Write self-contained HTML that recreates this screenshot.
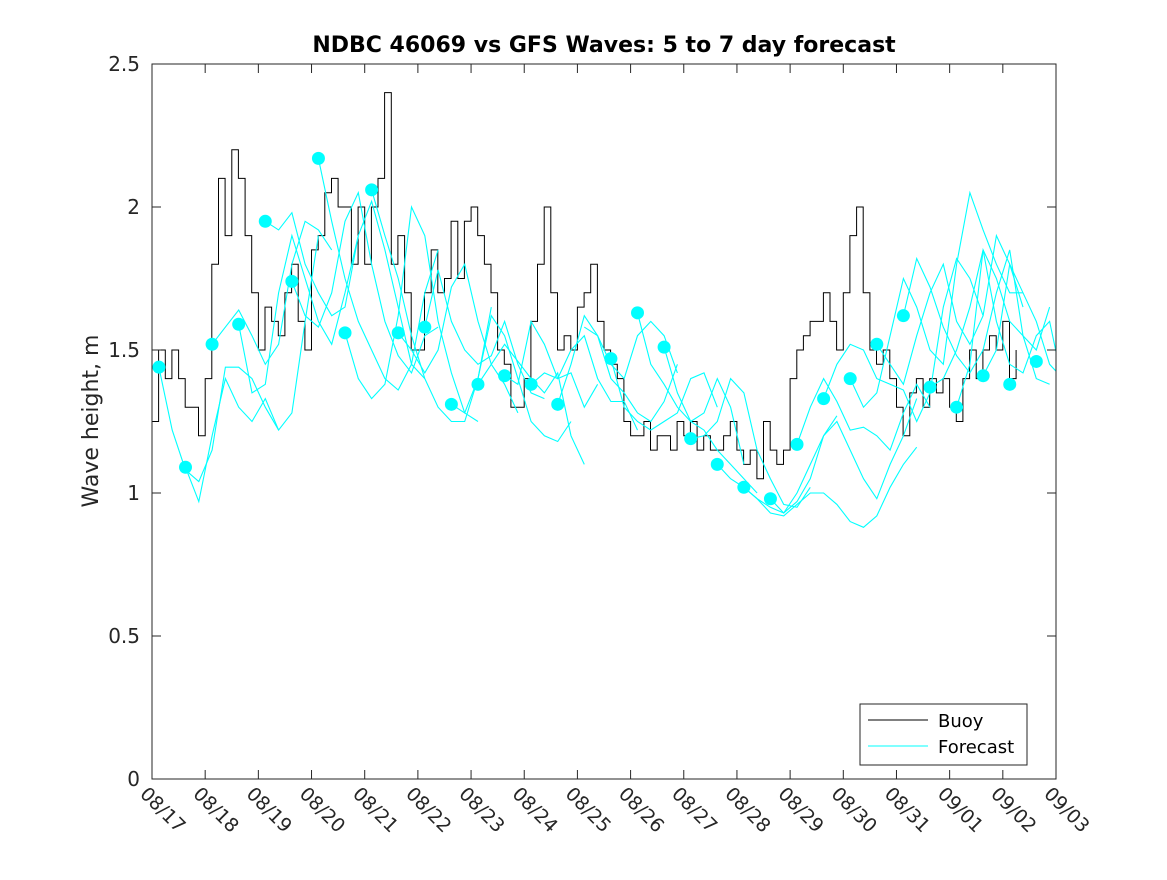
<!DOCTYPE html>
<html><head><meta charset="utf-8"><style>
body{margin:0;background:#fff}
svg text{font-family:"DejaVu Sans","Liberation Sans",sans-serif;fill:#262626}
</style></head><body>
<svg id="chart" width="1167" height="875" viewBox="0 0 1167 875" xmlns="http://www.w3.org/2000/svg">
<rect width="1167" height="875" fill="#fff"/>
<text x="604" y="52" text-anchor="middle" font-size="22" font-weight="bold" style="fill:#000">NDBC 46069 vs GFS Waves: 5 to 7 day forecast</text>
<text transform="translate(98,421) rotate(-90)" text-anchor="middle" font-size="22">Wave height, m</text>
<g id="plot"></g>
<rect x="152" y="64" width="904" height="715" fill="none" stroke="#262626" stroke-width="1"/>
<g id="axes"></g>
<g>
<rect x="860" y="704" width="167" height="61" fill="#fff" stroke="#262626"/>
<line x1="868" y1="720" x2="928" y2="720" stroke="#000"/>
<text x="938" y="727" font-size="18" style="fill:#000">Buoy</text>
<line x1="868" y1="746" x2="928" y2="746" stroke="#00ffff"/>
<text x="938" y="753" font-size="18" style="fill:#000">Forecast</text>
</g>
</svg>
<script>
const tickDates=["08/17","08/18","08/19","08/20","08/21","08/22","08/23","08/24","08/25","08/26","08/27","08/28","08/29","08/30","08/31","09/01","09/02","09/03"];
const yTicks=[0,0.5,1,1.5,2,2.5];
const buoyStep=0.125;
const buoyValues=[
1.25,1.5,1.4,1.5,1.4,1.3,1.3,1.2,
1.4,1.8,2.1,1.9,2.2,2.1,1.9,1.7,
1.5,1.65,1.6,1.55,1.7,1.8,1.6,1.5,
1.85,1.9,2.05,2.1,2.0,2.0,1.8,2.0,
1.8,2.0,2.1,2.4,1.8,1.9,1.7,1.5,
1.5,1.7,1.85,1.7,1.75,1.95,1.75,1.95,
2.0,1.9,1.8,1.7,1.5,1.45,1.3,1.3,
1.4,1.6,1.8,2.0,1.7,1.5,1.55,1.5,
1.65,1.7,1.8,1.6,1.5,1.45,1.4,1.25,
1.2,1.2,1.25,1.15,1.2,1.2,1.15,1.25,
1.2,1.25,1.15,1.2,1.15,1.15,1.2,1.25,
1.15,1.1,1.15,1.05,1.25,1.15,1.1,1.15,
1.4,1.5,1.55,1.6,1.6,1.7,1.6,1.5,
1.7,1.9,2.0,1.7,1.5,1.45,1.5,1.4,
1.3,1.2,1.35,1.4,1.3,1.4,1.35,1.4,
1.3,1.25,1.4,1.5,1.4,1.5,1.55,1.5,
1.6,1.4,1.5];
const dotStart=0.13, dotStep=0.5;
const dotValues=[1.44,1.09,1.52,1.59,1.95,1.74,2.17,1.56,2.06,1.56,1.58,1.31,1.38,1.41,1.38,1.31,null,1.47,1.63,1.51,1.19,1.10,1.02,0.98,1.17,1.33,1.40,1.52,1.62,1.37,1.30,1.41,1.38,1.46];
const fcStep=0.25;
const fcStarts=[0.13,0.63,1.13,1.63,2.13,2.63,3.13,3.63,4.13,4.63,5.13,5.63,6.13,6.63,7.13,7.63,8.13,8.63,9.13,9.63,10.13,10.63,11.13,11.63,12.13,12.63,13.13,13.63,14.13,14.63,15.13,15.63];
const fc0=[1.44,1.22,1.08,1.04,1.15,1.44,1.44,1.40,1.30,1.22];
const fc1=[1.09,0.97,1.20,1.40,1.30,1.25,1.33,1.22,1.28,1.60,1.90];
const fc2=[1.52,1.58,1.64,1.55,1.45,1.52,1.80,1.95,1.92,1.85];
const fc3=[1.59,1.35,1.38,1.70,1.90,1.75,1.60,1.52,1.70,1.90];
const fc4=[1.95,1.92,1.98,1.80,1.70,1.62,1.65,1.90,2.02,1.85,1.65,1.45,1.40];
const fc5=[1.74,1.62,1.58,1.70,1.95,2.05,1.80,1.60,1.48,1.42,1.55,1.58];
const fc6=[2.17,1.95,1.75,1.60,1.50,1.40,1.36,1.45,1.70,1.85];
const fc7=[1.56,1.40,1.33,1.38,1.62,2.00,1.90,1.60,1.42,1.28,1.25];
const fc8=[2.06,1.90,1.75,1.55,1.40,1.30,1.25,1.25,1.40,1.65];
const fc9=[1.56,1.50,1.42,1.50,1.72,1.80,1.60,1.45,1.38,1.28];
const fc10=[1.58,1.78,1.60,1.50,1.45,1.48,1.60,1.45,1.35,1.33];
const fc11=[1.31,1.28,1.40,1.62,1.55,1.40,1.25,1.20,1.18,1.25];
const fc12=[1.38,1.45,1.52,1.46,1.40,1.35,1.42,1.20,1.10];
const fc13=[1.41,1.38,1.60,1.52,1.40,1.42,1.30,1.38];
const fc14=[1.38,1.42,1.40,1.50,1.55,1.40,1.32,1.32,1.22];
const fc15=[1.31,1.45,1.62,1.55,1.45,1.40,1.55,1.60,1.55,1.42];
const fc16=[1.58,1.55,1.40,1.35,1.28,1.25,1.32,1.45];
const fc17=[1.47,1.30,1.25,1.22,1.25,1.28,1.40,1.42,1.30];
const fc18=[1.63,1.45,1.38,1.30,1.25,1.28,1.40,1.30,1.10];
const fc19=[1.51,1.35,1.25,1.22,1.15,1.10,1.05,1.00];
const fc20=[1.19,1.20,1.25,1.40,1.35,1.15,1.05,0.96,0.95,1.02];
const fc21=[1.10,1.05,1.02,0.98,0.95,0.93,0.97,1.05,1.20,1.27];
const fc22=[1.02,0.98,0.93,0.92,0.96,1.00,1.00,0.96,0.90,0.88,0.92,1.02,1.10,1.16];
const fc23=[0.98,0.93,1.00,1.10,1.20,1.25,1.15,1.05,0.98,1.10,1.20,1.33];
const fc24=[1.17,1.30,1.40,1.32,1.22,1.23,1.20,1.15,1.28,1.38,1.30];
const fc25=[1.33,1.45,1.52,1.50,1.40,1.38,1.36,1.25,1.35,1.65,1.82,1.75,1.62];
const fc26=[1.40,1.30,1.35,1.55,1.75,1.65,1.50,1.45,1.80,2.05,1.92,1.80,1.70,1.70];
const fc27=[1.52,1.45,1.38,1.55,1.70,1.80,1.60,1.52,1.62,1.90,1.80,1.65];
const fc28=[1.62,1.82,1.72,1.58,1.48,1.42,1.50,1.70,1.85,1.55,1.40,1.38];
const fc29=[1.37,1.40,1.50,1.65,1.85,1.60,1.45,1.42,1.55,1.60,1.38,1.42];
const fc30=[1.30,1.45,1.85,1.75,1.60,1.55,1.50,1.65];
const fc31=[1.41,1.50,1.80,1.70,1.60,1.45,1.40,1.42];
const fcSeries=[fc0,fc1,fc2,fc3,fc4,fc5,fc6,fc7,fc8,fc9,fc10,fc11,fc12,fc13,fc14,fc15,fc16,fc17,fc18,fc19,fc20,fc21,fc22,fc23,fc24,fc25,fc26,fc27,fc28,fc29,fc30,fc31];

const NS="http://www.w3.org/2000/svg";
const X0=152,X1=1056,Y0=779,Y1=64,DAYS=17,YMAX=2.5;
function xs(d){return X0+(X1-X0)*d/DAYS;}
function ys(v){return Y0-(Y0-Y1)*v/YMAX;}
const plot=document.getElementById('plot');
const axes=document.getElementById('axes');
function mk(tag,attrs,parent){const e=document.createElementNS(NS,tag);for(const k in attrs)e.setAttribute(k,attrs[k]);parent.appendChild(e);return e;}

const clip=mk('clipPath',{id:'pc'},plot);
mk('rect',{x:X0,y:Y1,width:X1-X0,height:Y0-Y1},clip);
const g=mk('g',{'clip-path':'url(#pc)'},plot);

let bp=[];
buoyValues.forEach((v,i)=>{
  const x=xs(i*buoyStep), y=ys(v);
  if(i>0) bp.push(x.toFixed(1)+','+ys(buoyValues[i-1]).toFixed(1));
  bp.push(x.toFixed(1)+','+y.toFixed(1));
});
const bl=mk('polyline',{points:bp.join(' '),fill:'none',stroke:'#000','stroke-width':1},g);



fcSeries.forEach((s,k)=>{
  const p=s.map((v,i)=>xs(fcStarts[k]+i*fcStep).toFixed(1)+','+ys(v).toFixed(1)).join(' ');
  const l=mk('polyline',{points:p,fill:'none',stroke:'#00ffff','stroke-width':1.1},g);
  
  
});
dotValues.forEach((v,i)=>{
  if(v===null)return;
  const c=mk('circle',{cx:xs(dotStart+i*dotStep),cy:ys(v),r:6.5,fill:'#00ffff'},g);
  
  
});

yTicks.forEach(v=>{
  const y=ys(v);
  mk('line',{x1:X0,y1:y,x2:X0+9,y2:y,stroke:'#262626'},axes);
  mk('line',{x1:X1,y1:y,x2:X1-9,y2:y,stroke:'#262626'},axes);
  const t=mk('text',{x:X0-12,y:y+7,'text-anchor':'end','font-size':'20'},axes);
  t.textContent=String(v);
  
  
});
tickDates.forEach((d,i)=>{
  const x=xs(i);
  mk('line',{x1:x,y1:Y0,x2:x,y2:Y0-9,stroke:'#262626'},axes);
  mk('line',{x1:x,y1:Y1,x2:x,y2:Y1+9,stroke:'#262626'},axes);
  const t=mk('text',{x:0,y:0,'font-size':'19',transform:'translate('+(x-13)+','+(Y0+16)+') rotate(45)'},axes);
  t.textContent=d;
  
  
});
</script>
</body></html>
